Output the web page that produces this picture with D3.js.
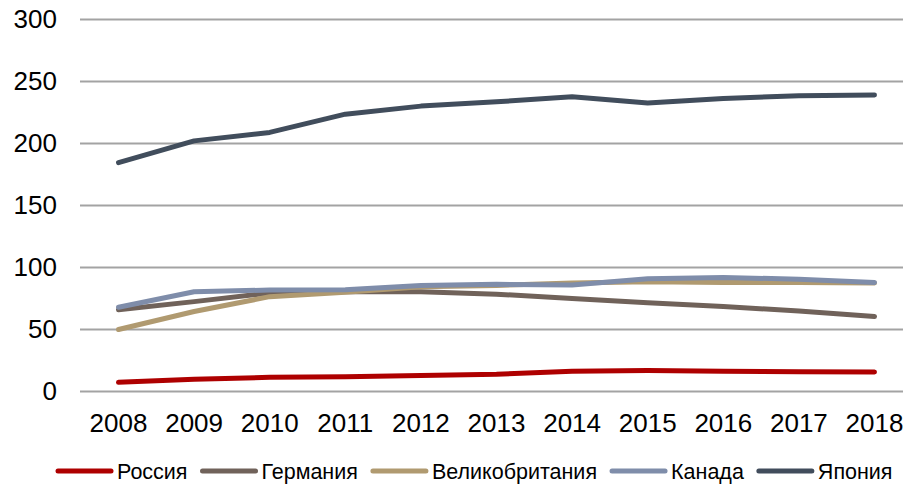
<!DOCTYPE html>
<meta charset="utf-8">
<style>
  body { margin: 0; background: #fff; }
  text { font-family: "Liberation Sans", Arial, sans-serif; fill: #000; }
</style>
<script src="https://d3js.org/d3.v7.min.js"></script>
<div id="chart"></div>
<script>

// data
var years = ["2008","2009","2010","2011","2012","2013","2014","2015","2016","2017","2018"];
var russia  = [7, 9.5, 11, 11.5, 12.5, 13.5, 16, 16.5, 16, 15.5, 15.3];
var germany = [65.5, 72, 79, 80, 80, 78, 74.5, 71, 68, 64.5, 60];
var uk      = [49.5, 64, 76, 79.5, 84, 85, 87, 88, 87.5, 87.5, 87];
var canada  = [67.5, 80, 81.3, 81.5, 85, 86, 85.3, 90.5, 91.5, 90, 87.5];
var japan   = [184, 201.5, 208.3, 223, 229.5, 233, 237, 232, 235.7, 237.8, 238.4];
var yTicks  = [0, 50, 100, 150, 200, 250, 300];

var seriesNames  = ["Россия", "Германия", "Великобритания", "Канада", "Япония"];
var seriesValues = [russia, germany, uk, canada, japan];
var seriesColors = ["#ae0000", "#70625a", "#b09a70", "#7f8daa", "#414d5c"];

var W = 903, H = 488;

var svg = d3.select("#chart")
  .append("svg")
    .attr("width", W)
    .attr("height", H);

// scales
var x = d3.scaleBand()
  .domain(years)
  .range([80.7, 912.3]);

var y = d3.scaleLinear()
  .domain([0, 300])
  .range([391, 18.6]);

// gridlines
svg.append("g")
  .selectAll("line")
  .data(yTicks)
  .enter()
  .append("line")
    .attr("x1", 80)
    .attr("x2", W)
    .attr("y1", function(d) { return Math.round(y(d)) + 0.5; })
    .attr("y2", function(d) { return Math.round(y(d)) + 0.5; })
    .style("stroke", "#a3a3a3")
    .style("stroke-width", 2);

// y axis labels
svg.append("g")
  .selectAll("text")
  .data(yTicks)
  .enter()
  .append("text")
    .attr("x", 57)
    .attr("y", function(d) { return y(d); })
    .attr("dy", "0.36em")
    .attr("text-anchor", "end")
    .style("font-size", "26px")
    .text(function(d) { return d; });

// x axis labels
svg.append("g")
  .selectAll("text")
  .data(years)
  .enter()
  .append("text")
    .attr("x", function(d) { return x(d) + x.bandwidth() / 2; })
    .attr("y", 432)
    .attr("text-anchor", "middle")
    .style("font-size", "26px")
    .text(function(d) { return d; });

// lines
var line = d3.line()
  .x(function(d, i) { return x(years[i]) + x.bandwidth() / 2; })
  .y(function(d) { return y(d); });

svg.append("g")
  .selectAll("path")
  .data(seriesValues)
  .enter()
  .append("path")
    .attr("d", function(d) { return line(d); })
    .style("fill", "none")
    .style("stroke", function(d, i) { return seriesColors[i]; })
    .style("stroke-width", 5)
    .style("stroke-linecap", "round")
    .style("stroke-linejoin", "round");

// legend
var legend = svg.append("g");
var lx = 58, ly = 471;
seriesNames.forEach(function(name, i) {
  legend.append("line")
    .attr("x1", lx).attr("x2", lx + 53)
    .attr("y1", ly).attr("y2", ly)
    .style("stroke", seriesColors[i])
    .style("stroke-width", 5)
    .style("stroke-linecap", "round");
  var t = legend.append("text")
    .attr("x", lx + 59)
    .attr("y", ly)
    .attr("dy", "0.36em")
    .style("font-size", "21.5px")
    .text(name);
  lx = lx + 59 + t.node().getComputedTextLength() + 15;
});

</script>
